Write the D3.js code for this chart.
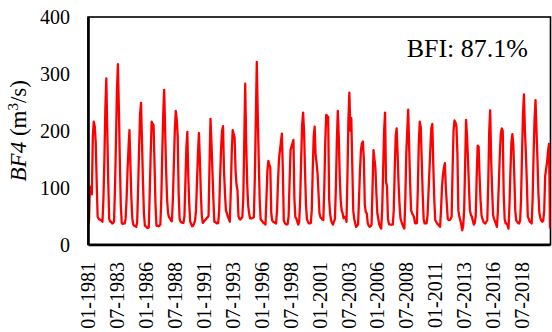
<!DOCTYPE html>
<html>
<head>
<meta charset="utf-8">
<script src="https://cdn.jsdelivr.net/npm/d3@7"></script>
<style>
  body { margin: 0; background: #fff; }
  svg { display: block; }
</style>
</head>
<body>
<div id="chart"></div>
<script>
const startYear = 1981;

// monthly flow, one row per year (m3/s)
const flowByYear = [
  [36, 40, 100, 102, 88, 190, 216, 208, 180, 110, 49, 45],
  [44, 43, 42, 40, 80, 150, 240, 292, 200, 110, 45, 40],
  [40, 37, 38, 40, 100, 180, 270, 317, 240, 150, 70, 38],
  [36, 37, 37, 45, 80, 130, 170, 201, 140, 80, 45, 35],
  [33, 32, 31, 40, 100, 170, 230, 249, 180, 110, 55, 33],
  [32, 30, 29, 30, 90, 160, 216, 212, 210, 140, 70, 33],
  [33, 32, 33, 35, 80, 160, 230, 272, 200, 130, 80, 55],
  [48, 46, 42, 41, 80, 140, 200, 235, 220, 190, 90, 45],
  [40, 39, 38, 38, 50, 110, 170, 198, 120, 70, 40, 36],
  [32, 33, 37, 42, 60, 110, 160, 196, 150, 90, 50, 38],
  [40, 42, 44, 46, 48, 50, 140, 221, 180, 130, 80, 40],
  [40, 38, 37, 38, 60, 120, 170, 200, 208, 130, 90, 60],
  [55, 49, 45, 40, 90, 160, 201, 195, 188, 130, 105, 95],
  [50, 45, 44, 46, 48, 80, 180, 283, 180, 110, 70, 55],
  [46, 46, 46, 47, 48, 120, 220, 321, 230, 150, 80, 44],
  [42, 40, 38, 37, 35, 80, 130, 147, 140, 136, 55, 42],
  [40, 39, 38, 37, 60, 110, 150, 165, 180, 195, 130, 43],
  [38, 36, 35, 36, 50, 110, 166, 172, 178, 184, 80, 48],
  [46, 40, 35, 40, 80, 150, 210, 232, 200, 130, 70, 45],
  [40, 37, 37, 38, 60, 130, 190, 207, 157, 143, 125, 90],
  [55, 48, 46, 44, 43, 100, 180, 228, 226, 224, 80, 55],
  [43, 38, 35, 40, 45, 100, 180, 235, 190, 120, 78, 60],
  [55, 46, 48, 49, 40, 120, 220, 267, 200, 222, 140, 60],
  [45, 38, 31, 33, 35, 80, 130, 166, 178, 181, 150, 70],
  [57, 55, 38, 33, 31, 32, 35, 100, 166, 150, 135, 90],
  [55, 45, 35, 31, 28, 60, 130, 200, 232, 110, 102, 45],
  [36, 35, 35, 35, 35, 60, 130, 190, 204, 160, 107, 70],
  [46, 40, 35, 31, 28, 80, 160, 200, 237, 170, 107, 60],
  [55, 52, 48, 38, 37, 38, 100, 180, 216, 206, 150, 90],
  [45, 37, 37, 37, 50, 90, 130, 170, 205, 212, 140, 80],
  [43, 40, 37, 35, 33, 31, 60, 100, 122, 135, 143, 100],
  [72, 45, 43, 43, 45, 49, 130, 200, 218, 215, 207, 160],
  [60, 49, 43, 35, 25, 33, 60, 140, 219, 190, 150, 100],
  [60, 52, 49, 42, 35, 38, 50, 120, 174, 172, 120, 78],
  [52, 45, 40, 38, 37, 40, 43, 110, 200, 236, 150, 96],
  [52, 45, 41, 36, 31, 60, 110, 160, 195, 204, 200, 90],
  [45, 37, 37, 34, 28, 70, 130, 180, 194, 175, 120, 60],
  [42, 40, 38, 37, 42, 80, 160, 230, 264, 200, 160, 110],
  [49, 45, 40, 39, 37, 80, 160, 220, 254, 200, 150, 90],
  [55, 47, 42, 40, 42, 60, 120, 133, 145, 165, 177, 28]
];

const xTickLabels = [
  "01-1981", "07-1983", "01-1986", "07-1988", "01-1991", "07-1993",
  "01-1996", "07-1998", "01-2001", "07-2003", "01-2006", "07-2008",
  "01-2011", "07-2013", "01-2016", "07-2018"
];
const yTicks = [0, 100, 200, 300, 400];
const bfiText = "BFI: 87.1%";

const serif = '"Liberation Serif", "Times New Roman", serif';
const width = 552;
const height = 332;
const plot = { left: 88, right: 550.5, top: 17, bottom: 244.5 };

const series = [];
flowByYear.forEach((row, yi) => {
  row.forEach((v, m) => {
    const mm = String(m + 1).padStart(2, "0");
    series.push({ i: yi * 12 + m, label: `${mm}-${startYear + yi}`, value: v });
  });
});
const labelIndex = new Map(series.map((d) => [d.label, d.i]));

const x = d3
  .scaleLinear()
  .domain([0, series.length - 1])
  .range([plot.left, plot.right - 0.5]);

const y = d3.scaleLinear().domain([0, 400]).range([plot.bottom, plot.top]);

const svg = d3
  .select("#chart")
  .append("svg")
  .attr("width", width)
  .attr("height", height)
  .attr("xmlns", "http://www.w3.org/2000/svg");

svg.append("rect").attr("width", width).attr("height", height).attr("fill", "#fff");

// plot frame
svg
  .append("rect")
  .attr("x", plot.left)
  .attr("y", plot.top)
  .attr("width", plot.right - plot.left)
  .attr("height", plot.bottom - plot.top)
  .attr("fill", "none")
  .attr("stroke", "#000")
  .attr("stroke-width", 1.6);

svg
  .append("clipPath")
  .attr("id", "clip")
  .append("rect")
  .attr("x", plot.left)
  .attr("y", plot.top)
  .attr("width", plot.right - plot.left)
  .attr("height", plot.bottom - plot.top);

const line = d3
  .line()
  .x((d) => x(d.i))
  .y((d) => y(d.value));

svg
  .append("path")
  .datum(series)
  .attr("clip-path", "url(#clip)")
  .attr("d", line)
  .attr("fill", "none")
  .attr("stroke", "#ff0000")
  .attr("stroke-width", 2.3)
  .attr("stroke-linejoin", "round");

// y axis
const yAxis = svg
  .append("g")
  .attr("transform", `translate(${plot.left},0)`)
  .call(d3.axisLeft(y).tickValues(yTicks).tickSize(0).tickPadding(18))
  .attr("font-family", serif)
  .attr("font-size", 20);
yAxis.select(".domain").attr("stroke", "#000").attr("stroke-width", 2.6);
yAxis.selectAll("text").attr("fill", "#000").attr("dy", "0.33em");

// x axis
const xAxis = svg
  .append("g")
  .attr("transform", `translate(0,${plot.bottom})`)
  .call(
    d3
      .axisBottom(x)
      .tickValues(xTickLabels.map((l) => labelIndex.get(l)))
      .tickFormat((i) => series[i].label)
      .tickSize(0)
  )
  .attr("font-family", serif)
  .attr("font-size", 20);
xAxis.select(".domain").attr("stroke", "#000").attr("stroke-width", 2.4);
xAxis
  .selectAll("text")
  .attr("fill", "#000")
  .attr("text-anchor", "end")
  .attr("y", 0)
  .attr("x", 0)
  .attr("dy", "0.33em")
  .attr("transform", "translate(0,17.5) rotate(-90)");

// y axis title
const yTitle = svg
  .append("text")
  .attr("transform", `translate(26,${(plot.top + plot.bottom) / 2}) rotate(-90)`)
  .attr("text-anchor", "middle")
  .attr("font-family", serif)
  .attr("font-size", 23)
  .attr("fill", "#000");
yTitle.append("tspan").attr("font-style", "italic").text("BF4");
yTitle.append("tspan").text(" (m");
yTitle.append("tspan").attr("baseline-shift", "super").attr("font-size", 15).text("3");
yTitle.append("tspan").text("/s)");

svg
  .append("text")
  .attr("x", 528)
  .attr("y", 57)
  .attr("text-anchor", "end")
  .attr("font-family", serif)
  .attr("font-size", 26)
  .attr("fill", "#000")
  .text(bfiText);
</script>
</body>
</html>
